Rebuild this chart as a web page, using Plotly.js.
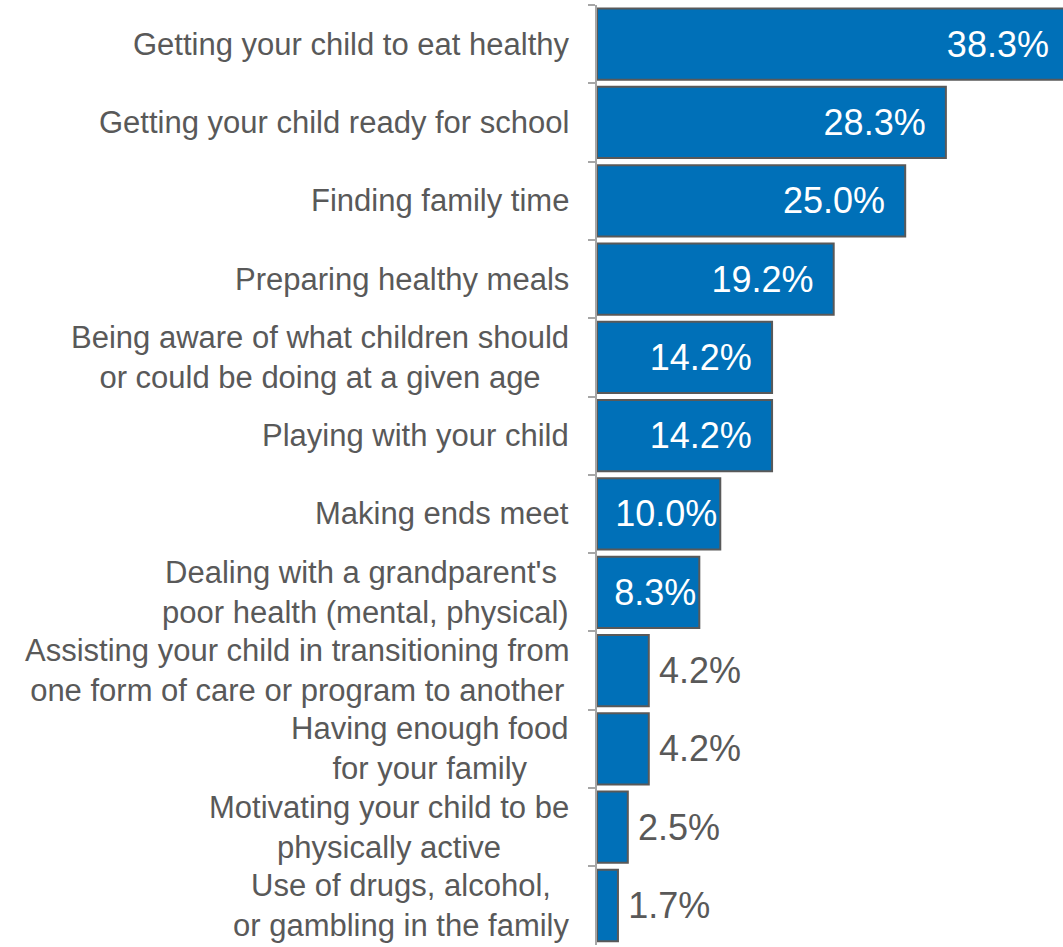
<!DOCTYPE html>
<html><head><meta charset="utf-8">
<script src="https://cdn.plot.ly/plotly-3.0.1.min.js"></script>
<style>html,body{margin:0;padding:0;background:#fff;}#chart{width:1063px;height:947px;}</style>
</head><body><div id="chart"></div>
<script>
const categories = [
  "Getting your child to eat healthy",
  "Getting your child ready for school",
  "Finding family time",
  "Preparing healthy meals",
  "Being aware of what children should<br>or could be doing at a given age",
  "Playing with your child",
  "Making ends meet",
  "Dealing with a grandparent's <br>poor health (mental, physical)",
  "Assisting your child in transitioning from<br>one form of care or program to another",
  "Having enough food<br>for your family",
  "Motivating your child to be<br>physically active",
  "Use of drugs, alcohol,<br>or gambling in the family"
];
const values = [38.3, 28.3, 25.0, 19.2, 14.2, 14.2, 10.0, 8.3, 4.2, 4.2, 2.5, 1.7];

const FONT = 'Liberation Sans, Arial, sans-serif';
// label placement: wide bars -> inside end with margin, narrow -> inside tight, tiny -> outside
const positions = values.map(v => v >= 8 ? 'inside' : 'outside');
const templates = values.map(v => v >= 12 ? '%{x:.1f}%\u00a0\u2009' : (v >= 8 ? '%{x:.1f}%' : '\u2009%{x:.1f}%'));

const trace = {
  type: 'bar', orientation: 'h',
  y: categories, x: values,
  marker: {color: '#0070B8', line: {color: '#595959', width: 2}},
  texttemplate: templates,
  textposition: positions,
  insidetextanchor: 'end',
  insidetextfont: {family: FONT, size: 36, color: '#ffffff'},
  outsidetextfont: {family: FONT, size: 36, color: '#595959'},
  constraintext: 'none',
  cliponaxis: true,
  hoverinfo: 'none'
};

const annotations = categories.map(c => ({
  xref: 'paper', yref: 'y', x: 0, y: c, xshift: -26,
  xanchor: 'right', yanchor: 'middle', align: 'center',
  text: c, showarrow: false,
  font: {family: FONT, size: 31, color: '#595959'}
}));

const layout = {
  width: 1063, height: 947,
  margin: {l: 597, r: 0, t: 5, b: 2},
  paper_bgcolor: '#ffffff', plot_bgcolor: '#ffffff',
  bargap: 0.09,
  showlegend: false,
  xaxis: {range: [0, 37.8], visible: false, fixedrange: true},
  yaxis: {
    type: 'category', autorange: 'reversed',
    showline: true, linecolor: '#a6a6a6', linewidth: 2,
    ticks: 'outside', tickson: 'boundaries', ticklen: 7, tickcolor: '#a6a6a6', tickwidth: 2,
    showticklabels: false, showgrid: false, zeroline: false
  },
  annotations: annotations
};

Plotly.newPlot('chart', [trace], layout, {staticPlot: true, displayModeBar: false});
</script></body></html>
